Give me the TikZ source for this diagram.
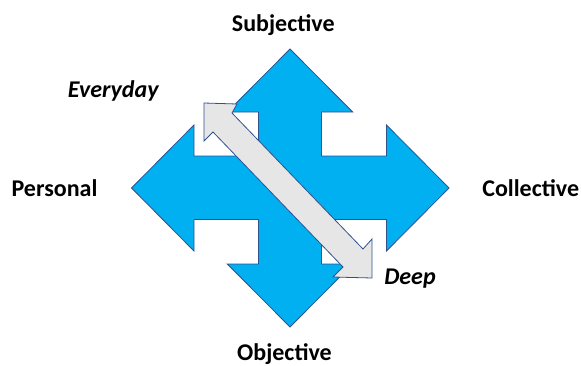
\documentclass[tikz,border=0pt]{standalone}
\usepackage{fontspec}
\setmainfont{Carlito}
\definecolor{quadblue}{HTML}{00B0F0}
\definecolor{edgeblue}{HTML}{2F528F}
\definecolor{lightgrey}{HTML}{E7E6E6}
\begin{document}
\begin{tikzpicture}[x=1pt,y=-1pt,
  quad/.style={fill=quadblue,draw=edgeblue,line width=0.8pt,line join=miter},
  scale arrow/.style={fill=lightgrey,draw=edgeblue,line width=0.8pt,line join=miter},
  axislabel/.style={font=\fontsize{24}{26}\selectfont\bfseries,anchor=base,inner sep=0pt},
  depthlabel/.style={font=\fontsize{24}{26}\selectfont\bfseries\itshape,anchor=base,inner sep=0pt}]
\useasboundingbox (0,0) rectangle (581,365);
% four-way arrow
\draw[quad] (290,49) -- (352.7,112) -- (321.5,112) -- (321.5,156) -- (386.5,156)
  -- (386.5,125) -- (449,188) -- (386.5,251) -- (386.5,219.5) -- (321.5,219.5)
  -- (321.5,264) -- (352.7,264) -- (290,327) -- (227.3,264) -- (258.5,264)
  -- (258.5,219.5) -- (194,219.5) -- (194,251) -- (131.5,188) -- (194,125)
  -- (194,156) -- (258.5,156) -- (258.5,112) -- (227.3,112) -- cycle;
% diagonal double arrow
\draw[scale arrow] (204,103) -- (237,104) -- (232,113) -- (363,249) -- (372,239)
  -- (372,278) -- (333,277) -- (343,267) -- (213,132) -- (204,141) -- cycle;
% labels
\node[axislabel] (subj) at (283.3,31) {Subjective};
\node[axislabel] (obj) at (284.5,360) {Objective};
\node[axislabel] (pers) at (54.5,196) {Personal};
\node[axislabel] (coll) at (530.7,196) {Collective};
\node[depthlabel] (every) at (113.3,97) {Everyday};
\node[depthlabel] (deep) at (410,284.3) {Deep};
\end{tikzpicture}
\end{document}
